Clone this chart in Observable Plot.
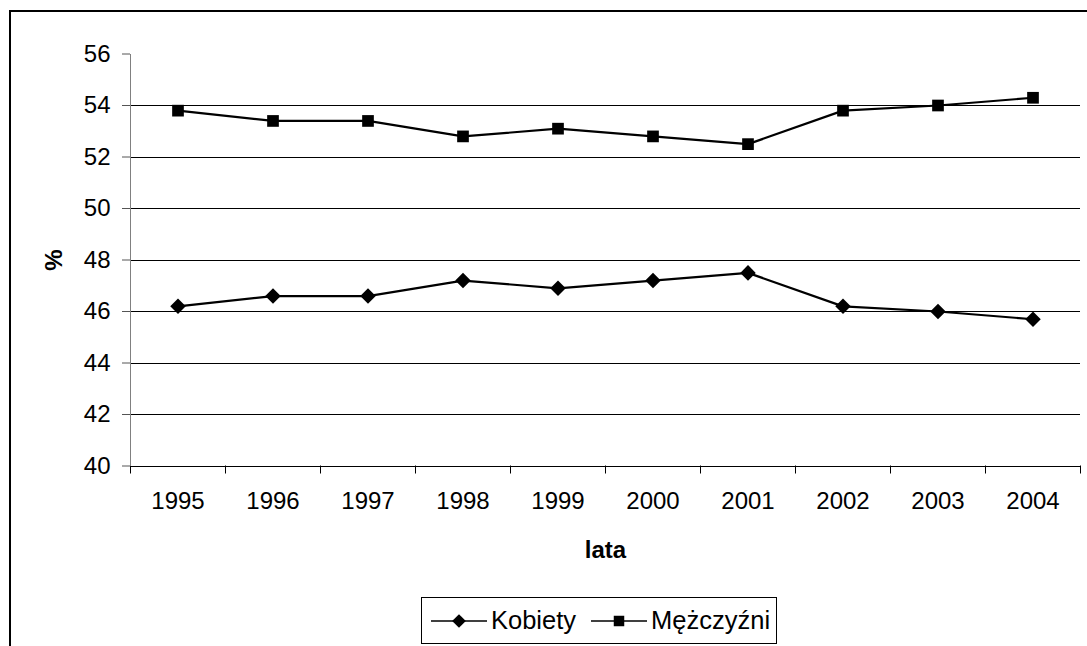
<!DOCTYPE html>
<html>
<head>
<meta charset="utf-8">
<script src="https://cdn.jsdelivr.net/npm/d3@7"></script>
<script src="https://cdn.jsdelivr.net/npm/@observablehq/plot@0.6"></script>
<style>
  html, body { margin: 0; padding: 0; background: #fff; overflow: hidden; }
  body { width: 1087px; height: 646px; position: relative; font-family: "Liberation Sans", Arial, sans-serif; }
  #frame { position: absolute; left: 9px; top: 10px; width: 1200px; height: 800px; border: 2px solid #000; box-sizing: border-box; }
  #chart { position: absolute; left: 0; top: 0; }
  #legend { position: absolute; left: 421px; top: 597px; width: 356px; height: 47px; border: 1px solid #000; box-sizing: border-box; background: #fff;
            display: flex; align-items: center; font-size: 25.5px; color: #000; white-space: nowrap; }
  #legend .item { display: flex; align-items: center; }
  #legend svg { display: block; }
</style>
</head>
<body>
<div id="frame"></div>
<div id="chart"></div>
<div id="legend"></div>
<script>
const years = [1995, 1996, 1997, 1998, 1999, 2000, 2001, 2002, 2003, 2004];
const kobiety = [46.2, 46.6, 46.6, 47.2, 46.9, 47.2, 47.5, 46.2, 46.0, 45.7];
const mezczyzni = [53.8, 53.4, 53.4, 52.8, 53.1, 52.8, 52.5, 53.8, 54.0, 54.3];
const seriesNames = ["Kobiety", "Mężczyźni"];
const seriesSymbols = ["diamond2", "square"];
const yTicks = [40, 42, 44, 46, 48, 50, 52, 54, 56];
const gridValues = [42, 44, 46, 48, 50, 52, 54];
const yLabel = "%";
const xLabel = "lata";

const rows = [];
years.forEach((yr, i) => {
  rows.push({year: yr, value: kobiety[i], series: seriesNames[0]});
  rows.push({year: yr, value: mezczyzni[i], series: seriesNames[1]});
});
const boundaries = [years[0] - 0.5, ...years.map(y => y + 0.5)];
const font = "\"Liberation Sans\", Arial, sans-serif";

const chart = Plot.plot({
  width: 1087,
  height: 585,
  marginLeft: 130,
  marginRight: 7,
  marginTop: 53.5,
  marginBottom: 585 - 465.5,
  style: {fontFamily: font, fontSize: "24px", color: "#000", background: "transparent", overflow: "visible"},
  x: {domain: [years[0] - 0.5, years[years.length - 1] + 0.5]},
  y: {domain: [yTicks[0], yTicks[yTicks.length - 1]]},
  marks: [
    Plot.ruleY(gridValues, {stroke: "#000", strokeWidth: 1, shapeRendering: "crispEdges"}),
    Plot.axisY({ticks: yTicks, tickSize: 8, tickPadding: 12, stroke: "#555", label: yLabel, labelArrow: "none",
                labelAnchor: "center", labelOffset: 86, tickFormat: d => String(d), fontSize: 24}),
    Plot.axisX({ticks: boundaries, tickSize: 8, tickFormat: () => "", stroke: "#000", label: null}),
    Plot.axisX({ticks: years, tickSize: 0, tickPadding: 26, tickFormat: d => String(d), label: xLabel, labelArrow: "none",
                labelAnchor: "center", labelOffset: 92, fontSize: 24}),
    Plot.ruleX([boundaries[0]], {y1: yTicks[0], y2: yTicks[yTicks.length - 1], stroke: "#808080", strokeWidth: 1, shapeRendering: "crispEdges"}),
    Plot.ruleY([yTicks[0]], {stroke: "#000", strokeWidth: 1, shapeRendering: "crispEdges"}),
    Plot.line(rows, {x: "year", y: "value", z: "series", stroke: "#000", strokeWidth: 2.2}),
    Plot.dot(rows.filter(d => d.series === seriesNames[0]), {x: "year", y: "value", symbol: () => seriesSymbols[0], fill: "#000", stroke: "none", r: 7}),
    Plot.dot(rows.filter(d => d.series === seriesNames[1]), {x: "year", y: "value", symbol: () => seriesSymbols[1], fill: "#000", stroke: "none", r: 6.6})
  ]
});
chart.querySelectorAll("g[aria-label='y-axis label'] text, g[aria-label='x-axis label'] text").forEach(t => t.setAttribute("font-weight", "bold"));
document.getElementById("chart").appendChild(chart);

// Legend
const legend = document.getElementById("legend");
seriesNames.forEach((name, i) => {
  const item = document.createElement("div");
  item.className = "item";
  item.style.marginLeft = i === 0 ? "9px" : "15px";
  const s = d3.create("svg").attr("width", 56).attr("height", 20);
  s.append("line").attr("x1", 0).attr("x2", 56).attr("y1", 10).attr("y2", 10).attr("stroke", "#000").attr("stroke-width", 1.5);
  const sym = i === 0 ? d3.symbol(d3.symbolDiamond2, 120) : d3.symbol(d3.symbolSquare, 110);
  s.append("path").attr("d", sym()).attr("transform", "translate(28,10)").attr("fill", "#000");
  item.appendChild(s.node());
  const label = document.createElement("span");
  label.textContent = name;
  label.style.marginLeft = "4px";
  item.appendChild(label);
  legend.appendChild(item);
});
</script>
</body>
</html>
